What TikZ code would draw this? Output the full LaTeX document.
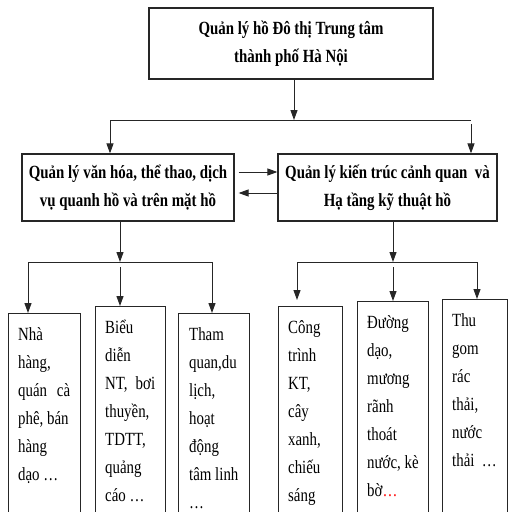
\documentclass[tikz,border=0pt]{standalone}
\usepackage{fontspec}
\setmainfont{Liberation Serif}[FakeStretch=0.8]
\usetikzlibrary{arrows.meta}
\begin{document}
\begin{tikzpicture}[x=1pt,y=-1pt,
  box/.style={draw=black!85, line width=1.2pt, inner sep=0pt},
  head/.style={box, font=\bfseries\fontsize{18.6}{28}\selectfont, align=center},
  leaf/.style={box, minimum height=260pt, anchor=north west},
  leaftext/.style={anchor=base west, inner sep=0pt, font=\fontsize{18.6}{28}\selectfont},
  link/.style={line width=1pt, draw=black!85},
  arr/.style={link, -{Triangle[length=10pt,width=7pt]}}
]
\useasboundingbox (0,0) rectangle (509,512);
\clip (0,0) rectangle (509,512);
\fill[white] (0,0) rectangle (509,512);

% top level
\node[head, minimum width=284pt, minimum height=71pt] (top) at (291,43.5)
  {Quản lý hồ Đô thị Trung tâm\\thành phố Hà Nội};

% second level
\node[head, minimum width=212pt, minimum height=67pt] (cul) at (128,187.5)
  {Quản lý văn hóa, thể thao, dịch\\vụ quanh hồ và trên mặt hồ};
\node[head, minimum width=219pt, minimum height=67pt] (arc) at (387.5,187.5)
  {Quản lý kiến trúc cảnh quan\ \ và\\Hạ tầng kỹ thuật hồ};

% leaf boxes
\node[leaf, minimum width=72pt] (l1) at (8,313) {};
\node[leaf, minimum width=70pt] (l2) at (95,306) {};
\node[leaf, minimum width=71pt] (l3) at (178,313) {};
\node[leaf, minimum width=64pt] (l4) at (278,306) {};
\node[leaf, minimum width=71pt] (l5) at (357,301) {};
\node[leaf, minimum width=65pt] (l6) at (442,299) {};

% leaf texts
\node[leaftext] (t1) at (18,340) {\parbox[t]{52pt}{Nhà\\hàng,\\quán\hfill cà\\phê, bán\\hàng\\dạo …}};
\node[leaftext] (t2) at (105,333) {\parbox[t]{50pt}{Biểu\\diễn\\NT,\hfill bơi\\thuyền,\\TDTT,\\quảng\\cáo …}};
\node[leaftext] (t3) at (189,340) {\parbox[t]{52pt}{Tham\\quan,du\\lịch,\\hoạt\\động\\tâm linh\\…}};
\node[leaftext] (t4) at (288,333) {\parbox[t]{46pt}{Công\\trình\\KT,\\cây\\xanh,\\chiếu\\sáng}};
\node[leaftext] (t5) at (367,328) {\parbox[t]{52pt}{Đường\\dạo,\\mương\\rãnh\\thoát\\nước, kè\\bờ\textcolor{red}{…}}};
\node[leaftext] (t6) at (452,326) {\parbox[t]{48pt}{Thu\\gom\\rác\\thải,\\nước\\thải\ \ …}};

% top bus
\coordinate (jT) at (294,120);
\coordinate (bTL) at (110,120);
\coordinate (bTR) at (471,120);
\coordinate (dTR) at (471,124);
\draw[arr] (top.south -| jT) -- (jT);
\draw[link] (bTL) -- (bTR);
\draw[arr] (bTL) -- (cul.north -| bTL);
\draw[arr] (dTR) -- (arc.north -| dTR);

% links between the two second-level boxes
\draw[arr] ([xshift=4pt,yshift=15.5pt]cul.east) -- ([yshift=15.5pt]arc.west);
\draw[arr] ([yshift=-5.5pt]arc.west) -- ([xshift=4pt,yshift=-5.5pt]cul.east);

% left bus
\coordinate (jL) at (120,262);
\coordinate (bL1) at (28,262);
\coordinate (bL3) at (212,262);
\coordinate (dL2) at (120,267);
\draw[arr] (cul.south -| jL) -- (jL);
\draw[link] (bL1) -- (bL3);
\draw[arr] (bL1) -- (l1.north -| bL1);
\draw[arr] (dL2) -- (l2.north -| dL2);
\draw[arr] (bL3) -- (l3.north -| bL3);

% right bus
\coordinate (jR) at (393,262);
\coordinate (bR1) at (297,262);
\coordinate (bR3) at (477,262);
\coordinate (dR2) at (393,267);
\draw[arr] (arc.south -| jR) -- (jR);
\draw[link] (bR1) -- (bR3);
\draw[arr, shorten >=6pt] (bR1) -- (l4.north -| bR1);
\draw[arr] (dR2) -- (l5.north -| dR2);
\draw[arr] (bR3) -- (l6.north -| bR3);
\end{tikzpicture}
\end{document}
